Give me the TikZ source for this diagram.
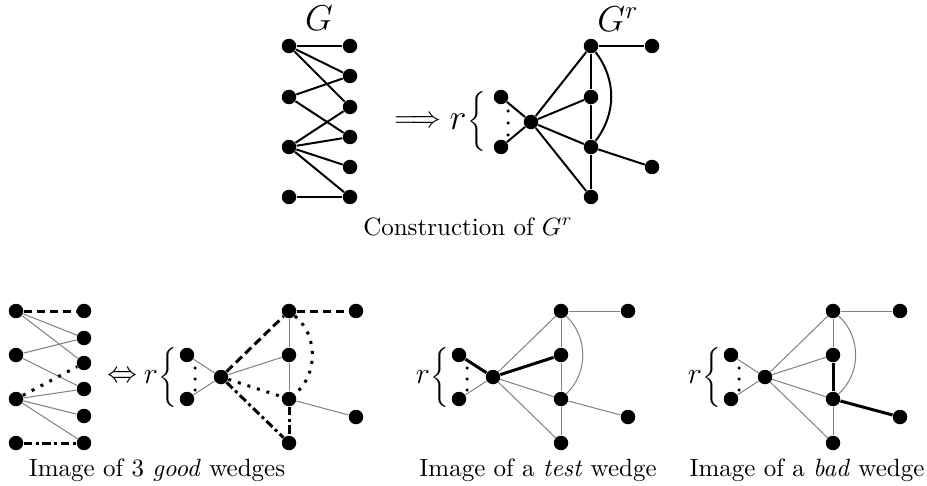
\documentclass[tikz,border=0pt]{standalone}
\newcommand{\mkgr}[2]{%
  \node[v] (#1H) at (#2,377) {};
  \node[v] (#1r1) at ({#2-34},355) {};
  \node[v] (#1r2) at ({#2-34},399) {};
  \node[v] (#1T) at ({#2+68},311) {};
  \node[v] (#1M) at ({#2+68},355) {};
  \node[v] (#1L) at ({#2+68},399) {};
  \node[v] (#1B) at ({#2+68},443) {};
  \node[v] (#1TR) at ({#2+135},311) {};
  \node[v] (#1LR) at ({#2+135},417) {};
  \node[dotv] (#1d1) at ({#2-26},368) {};
  \node[dotv] (#1d2) at ({#2-26},379) {};
  \node[dotv] (#1d3) at ({#2-26},390) {};
  \node[inner sep=0pt] (#1rl) at ({#2-70},377) {\large $r$};
  \node[inner sep=0pt] (#1br) at ({#2-52},377) {$\left\{\vcenter{\hbox{\rule{0pt}{20pt}}}\right.$};
}
\begin{document}
\begin{tikzpicture}[x=0.4pt,y=-0.4pt,
  v/.style={circle,fill=black,inner sep=0pt,minimum size=5.8pt},
  dotv/.style={circle,fill=black,inner sep=0pt,minimum size=1.4pt},
  blk/.style={line width=0.8pt},
  gr/.style={line width=0.4pt,black!50},
  thk/.style={line width=1.2pt},
  dsh/.style={line width=1.2pt,dash pattern=on 3.4pt off 1.8pt},
  dtt/.style={line width=1.2pt,dash pattern=on 1.2pt off 2.8pt},
  dsd/.style={line width=1.2pt,dash pattern=on 3.4pt off 1.4pt on 1.2pt off 1.4pt}]
\useasboundingbox (0,0) rectangle (927,486);

% ---------- top G ----------
\node[inner sep=0pt] (GL) at (319,18) {\Large $G$};
\foreach \i/\y in {1/46,2/97,3/147,4/197} { \node[v] (gL\i) at (289,\y) {}; }
\foreach \i/\y in {1/46,2/76,3/107,4/137,5/167,6/197} { \node[v] (gR\i) at (350,\y) {}; }
\draw[blk] (gL1) -- (gR1);
\draw[blk] (gL1) -- (gR2);
\draw[blk] (gL1) -- (gR3);
\draw[blk] (gL2) -- (gR2);
\draw[blk] (gL2) -- (gR4);
\draw[blk] (gL3) -- (gR3);
\draw[blk] (gL3) -- (gR4);
\draw[blk] (gL3) -- (gR5);
\draw[blk] (gL3) -- (gR6);
\draw[blk] (gL4) -- (gR6);

\node[inner sep=0pt] (imp) at (418,122) {\large $\Longrightarrow$};

% ---------- top G^r ----------
\node[inner sep=0pt] (GrL) at (618,19) {\Large $G^r$};
\node[v] (uH) at (531,122) {};
\node[v] (ur1) at (501,97) {};
\node[v] (ur2) at (501,147) {};
\node[v] (uT) at (591,46) {};
\node[v] (uM) at (591,97) {};
\node[v] (uL) at (591,147) {};
\node[v] (uB) at (591,197) {};
\node[v] (uTR) at (652,46) {};
\node[v] (uLR) at (652,167) {};
\node[dotv] (ud1) at (508,111) {};
\node[dotv] (ud2) at (508,123) {};
\node[dotv] (ud3) at (508,135) {};
\node[inner sep=0pt] (url) at (458,122) {\Large $r$};
\node[inner sep=0pt] (ubr) at (478,122) {\large $\left\{\vcenter{\hbox{\rule{0pt}{22pt}}}\right.$};
\draw[blk] (uH) -- (ur1);
\draw[blk] (uH) -- (ur2);
\draw[blk] (uH) -- (uT);
\draw[blk] (uH) -- (uM);
\draw[blk] (uH) -- (uL);
\draw[blk] (uH) -- (uB);
\draw[blk] (uT) -- (uTR);
\draw[blk] (uT) -- (uM);
\draw[blk] (uM) -- (uL);
\draw[blk] (uL) -- (uB);
\draw[blk] (uL) -- (uLR);
\draw[blk] (uT) to[bend left=37] (uL);

\node[anchor=base] (cap0) at (468,235) {Construction of $G^r$};

% ---------- bottom left G ----------
\foreach \i/\y in {1/311,2/355,3/399,4/443} { \node[v] (bL\i) at (16,\y) {}; }
\foreach \i/\y in {1/311,2/338,3/363,4/389,5/416,6/443} { \node[v] (bR\i) at (84,\y) {}; }
\draw[gr] (bL1) -- (bR2);
\draw[gr] (bL1) -- (bR3);
\draw[gr] (bL2) -- (bR2);
\draw[gr] (bL2) -- (bR4);
\draw[gr] (bL3) -- (bR4);
\draw[gr] (bL3) -- (bR5);
\draw[gr] (bL3) -- (bR6);
\draw[dsh] (bL1) -- (bR1);
\draw[dtt] (bL3) -- (bR3);
\draw[dsd] (bL4) -- (bR6);

\node[inner sep=0pt] (iff) at (122,377) {\large $\Leftrightarrow$};

% ---------- bottom graph a (good) ----------
\mkgr{a}{221}
\draw[gr] (aH) -- (ar1);
\draw[gr] (aH) -- (ar2);
\draw[gr] (aT) -- (aM);
\draw[gr] (aM) -- (aL);
\draw[gr] (aH) -- (aM);
\draw[gr] (aL) -- (aLR);
\draw[dsh] (aT) -- (aTR);
\draw[dsh] (aH) -- (aT);
\draw[dtt] (aT) to[bend left=50] (aL);
\draw[dtt] (aH) -- (aL);
\draw[dsd] (aH) -- (aB);
\draw[dsd] (aL) -- (aB);
\node[anchor=base] (cap1) at (157,476) {Image of 3 \textit{good} wedges};

% ---------- bottom graph t (test) ----------
\mkgr{t}{493}
\draw[gr] (tH) -- (tr2);
\draw[gr] (tH) -- (tT);
\draw[gr] (tH) -- (tL);
\draw[gr] (tH) -- (tB);
\draw[gr] (tT) -- (tTR);
\draw[gr] (tT) -- (tM);
\draw[gr] (tM) -- (tL);
\draw[gr] (tL) -- (tB);
\draw[gr] (tL) -- (tLR);
\draw[gr] (tT) to[bend left=46] (tL);
\draw[thk] (tH) -- (tr1);
\draw[thk] (tH) -- (tM);
\node[anchor=base] (cap2) at (538,476) {Image of a \textit{test} wedge};

% ---------- bottom graph s (bad) ----------
\mkgr{s}{765}
\draw[gr] (sH) -- (sr1);
\draw[gr] (sH) -- (sr2);
\draw[gr] (sH) -- (sT);
\draw[gr] (sH) -- (sM);
\draw[gr] (sH) -- (sL);
\draw[gr] (sH) -- (sB);
\draw[gr] (sT) -- (sTR);
\draw[gr] (sT) -- (sM);
\draw[gr] (sL) -- (sB);
\draw[gr] (sT) to[bend left=48] (sL);
\draw[thk] (sM) -- (sL);
\draw[thk] (sL) -- (sLR);
\node[anchor=base] (cap3) at (807,476) {Image of a \textit{bad} wedge};
\end{tikzpicture}
\end{document}
